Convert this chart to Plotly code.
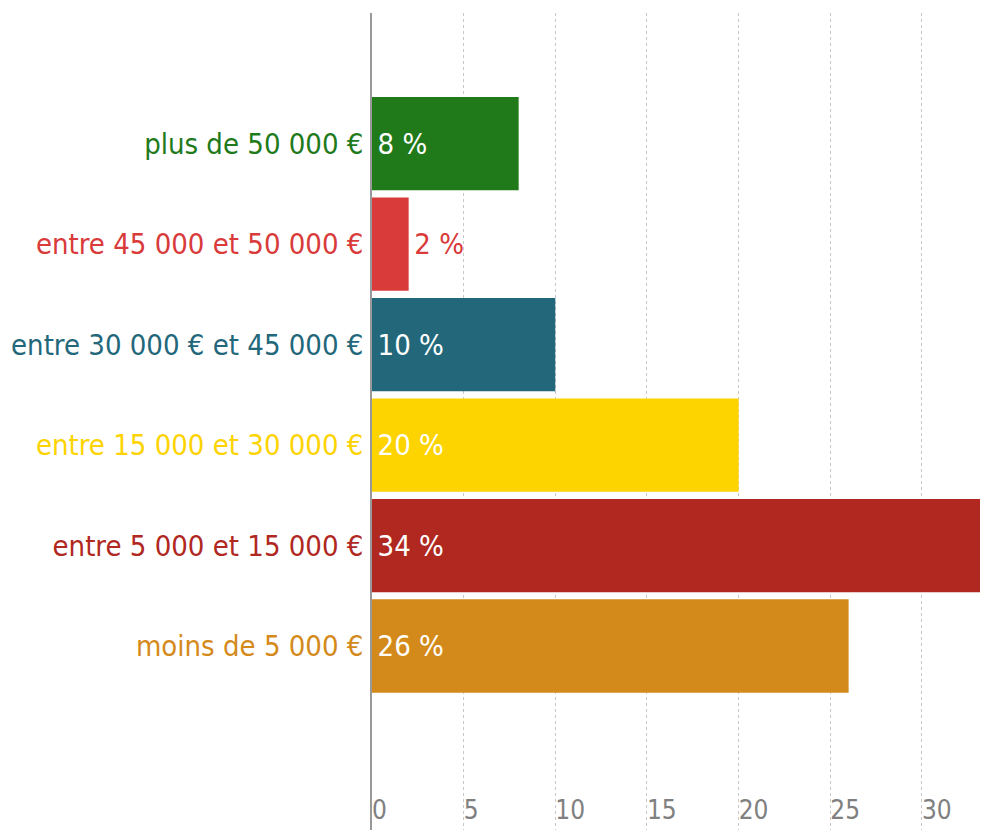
import plotly.graph_objects as go

# revenus annuels, du bas vers le haut
categories = ["moins de 5 000 €", "entre 5 000 et 15 000 €", "entre 15 000 et 30 000 €",
              "entre 30 000 € et 45 000 €", "entre 45 000 et 50 000 €", "plus de 50 000 €"]
values = [26, 34, 20, 10, 2, 8]
colors = ["#d48a1a", "#b0281f", "#fdd300", "#23677b", "#d93a3a", "#217a1a"]
x_ticks = [0, 5, 10, 15, 20, 25, 30]

FONT = "Liberation Sans Narrow, DejaVu Sans Condensed, sans-serif"

labels = [f"\u200a{v} %" for v in values]
positions = ["outside" if v < 5 else "inside" for v in values]
text_colors = [c if v < 5 else "white" for v, c in zip(values, colors)]

fig = go.Figure()
fig.add_trace(go.Bar(
    y=categories,
    x=values,
    orientation="h",
    marker=dict(color=colors, line=dict(width=0)),
    text=labels,
    textposition=positions,
    insidetextanchor="start",
    textfont=dict(family=FONT, size=29, color=text_colors),
    cliponaxis=True,
    hoverinfo="skip",
))

ticktext = [f'<span style="color:{c}">{cat}</span>' for cat, c in zip(categories, colors)]

# the page adds an 8px body margin; let the plot run to the window's right edge
fig.update_layout(
    width=988,
    height=822,
    margin=dict(l=364, r=0, t=5, b=0),
    paper_bgcolor="white",
    plot_bgcolor="white",
    bargap=0.07,
    showlegend=False,
    font=dict(family=FONT),
)
fig.update_xaxes(
    range=[0, 34.04],
    tickvals=x_ticks,
    ticklabelposition="inside right",
    tickfont=dict(family=FONT, size=26, color="#808080"),
    showgrid=True,
    gridcolor="#c8c8c8",
    griddash="dot",
    gridwidth=1,
    zeroline=False,
    showline=False,
    automargin=False,
)
fig.update_yaxes(
    tickvals=categories,
    ticktext=ticktext,
    range=[-1.83, 6.3],
    tickfont=dict(family=FONT, size=29),
    ticks="",
    ticklabelstandoff=1,
    showgrid=False,
    showline=True,
    linecolor="#999999",
    linewidth=1.5,
    zeroline=False,
    automargin=False,
)

fig.write_html("out.html")
